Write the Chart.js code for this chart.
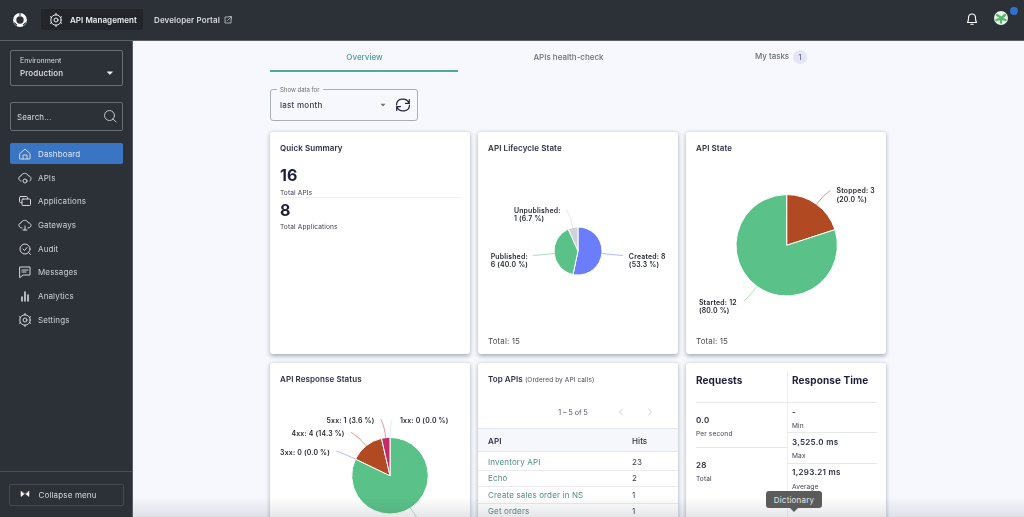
<!DOCTYPE html>
<html><head><meta charset="utf-8"><title>Dashboard</title>
<script src="https://cdn.jsdelivr.net/npm/chart.js@4"></script>
<style>
html,body{margin:0;padding:0;width:1024px;height:517px;overflow:hidden;background:#f6f8fd;font-family:Inter,"Noto Sans",sans-serif;color:#2b2d42}
#app{position:absolute;left:0;top:0;width:1024px;height:517px;overflow:hidden;filter:blur(.3px)}
.a{position:absolute;white-space:nowrap}
.t{position:absolute;white-space:nowrap;transform:translateY(-50%);line-height:1;letter-spacing:.1px}
.card{position:absolute;width:200px;background:#fff;border-radius:3px;box-shadow:0 1.5px 4px rgba(40,45,70,.38);overflow:hidden}
canvas{position:absolute;left:0;top:0}
svg{position:absolute;overflow:visible}
</style></head><body>
<div id="app"></div>
<script>
// ---- data ----
const lifecycleLabels=['Created','Published','Unpublished'];
const lifecycleValues=[8,6,1];
const stateLabels=['Stopped','Started'];
const stateValues=[3,12];
const responseLabels=['1xx','2xx','3xx','4xx','5xx'];
const responseValues=[0,23,0,4,1];
const menuItems=['Dashboard','APIs','Applications','Gateways','Audit','Messages','Analytics','Settings'];
const topApis=['Inventory API','Echo','Create sales order in NS','Get orders'];
const topHits=[23,2,1,1];

const app=document.getElementById('app');
function box(x,y,w,h,css){const d=document.createElement('div');d.className='a';d.style.cssText+=`left:${x}px;top:${y}px;width:${w}px;height:${h}px;`+(css||'');app.appendChild(d);return d;}
function txt(x,y,s,css,anchor){const d=document.createElement('div');d.className='t';d.textContent=s;d.style.cssText+=`left:${x}px;top:${y}px;`+(css||'');if(anchor==='c')d.style.transform='translate(-50%,-50%)';app.appendChild(d);return d;}
function ico(x,y,inner,stroke,sw){const s=document.createElementNS('http://www.w3.org/2000/svg','svg');s.setAttribute('width','16');s.setAttribute('height','16');s.setAttribute('viewBox','-8 -8 16 16');s.style.cssText=`left:${x-8}px;top:${y-8}px;`;s.innerHTML=`<g fill="none" stroke="${stroke||'#dfe2e6'}" stroke-width="${sw||1}" stroke-linecap="round" stroke-linejoin="round">${inner}</g>`;app.appendChild(s);return s;}

// shell
const DARK='#2c3138',LT='#d9dcdf';
box(0,0,1024,40,`background:${DARK}`);
box(0,40,1024,1,'background:#5c6168');
box(0,41,132,476,`background:${DARK}`);
box(132,41,1,476,'background:#585c63');
ico(20,20,'<circle r="5.3"/>','#fff',3.2);
ico(20,20,'<path d="M-5.5 2.8L-3.4 5M5.5 2.8L3.4 5M0-7V-4.5"/>',DARK,1.1);
box(41,9,102,21,'background:#22262b;border-radius:2px');
const gear='<circle r="2"/><circle r="5.2"/><path d="M0-6.6V-5M0 5V6.6M-5.7-3.3L-4.3-2.5M4.3 2.5L5.7 3.3M-5.7 3.3L-4.3 2.5M4.3-2.5L5.7-3.3"/>';
ico(56,19.5,gear,'#eceef0');
txt(70,20,'API Management',`font-size:8px;font-weight:600;color:#eceef0;letter-spacing:.05px`);
txt(154,20,'Developer Portal',`font-size:8px;font-weight:600;color:#d8dbde;letter-spacing:.1px`);
ico(228,19.5,'<path d="M.5-3H-3V3H3V-.5M-.5.5L3-3M1-3.5H3.5V-1"/>','#c8ccd0',.8);
ico(972,19,'<path d="M-4.5 3.5C-3.5 2-3.5 0-3.5-1C-3.5-3.5-2-5 0-5S3.5-3.5 3.5-1C3.5 0 3.5 2 4.5 3.5Z"/><path d="M-1.2 5.2H1.2"/>','#fff',1.1);
ico(1001,18,'<circle r="7" fill="#e9f4ec" stroke="none"/><path d="M-4-3L-1-1M4-3L1-.5M0 4.5V1.5M-4.5 2L-1.5 .8M4.5 2L1.5 .8" stroke="#5ab56c" stroke-width="2.4"/>');
box(1010,7,8,8,'background:#2f6fce;border-radius:50%');

// sidebar controls
box(10,50,111,34,'border:1.5px solid #686c73;border-radius:2px');
txt(20,59.5,'Environment',`font-size:7px;color:${LT};letter-spacing:0`);
txt(20,72.5,'Production',`font-size:8px;font-weight:500;color:#e6e8ea;letter-spacing:.15px`);
ico(110,72.5,'<path d="M-2.6-1.2H2.6L0 1.4Z" fill="#fff" stroke="#fff" stroke-width=".4"/>');
box(10,102,111,27,'border:1.5px solid #686c73;border-radius:2px');
txt(17,116.5,'Search...',`font-size:8px;color:${LT}`);
ico(110,116,'<circle cx="-.5" cy="-.5" r="5"/><path d="M3 3L6 6"/>','#c3c7cb');
box(10,143,113,21,'background:#3a75c4;border-radius:2px');
const icons=[
 '<path d="M-5-.5L0-5L5-.5V5H-5ZM-2 5V1H2V5"/>',
 '<path d="M-4 3C-7 3-7-2-4-2C-3.5-5 2-6 3.5-2C6-2 7 1 5 3"/><circle cy="3" r="2"/>',
 '<rect x="-5.5" y="-4.5" width="8" height="6" rx="1"/><rect x="-3" y="-2" width="8.5" height="6.5" rx="1" fill="#2c3138"/>',
 '<path d="M-3 3C-7 3-7-2-4-2C-3.5-5 2-6 3.5-2C7-2 7 3 3 3M0 1V5M-2 5H2"/>',
 '<circle r="5"/><path d="M-2 0L-.5 1.5L2-1.5M3.5 3.5L5.5 5.5"/>',
 '<path d="M-5-5H5V3H-2L-5 5.5ZM-3-2H3M-3 0H1"/>',
 '<path d="M-3 5V1M0 5V-4M3 5V-1" stroke-width="1.6"/>',
 gear];
const menuY=[154,177.5,201,225,248.5,272,296,320];
menuItems.forEach((m,i)=>{ico(25,menuY[i],icons[i],'#d5d8db');txt(38,menuY[i],m,`font-size:8px;font-weight:400;color:${i?'#cfd2d6':'#dfe6f2'};letter-spacing:.12px`);});
box(0,471,132,1,'background:#484c53');
box(9,484,113,20,'border:1px solid #444952;border-radius:2px');
ico(25,494,'<path d="M-4-2.5V2.5L-.8 0ZM4-2.5V2.5L.8 0Z" fill="#fff" stroke="#fff" stroke-width=".5"/>');
txt(38.5,494.5,'Collapse menu',`font-size:8px;color:#d6d9dc;letter-spacing:.15px`);

// tabs
txt(364.5,57,'Overview','font-size:8px;font-weight:500;color:#4b9e9b;letter-spacing:0','c');
box(270,70,188,1.5,'background:#4fa7a4');
txt(568.5,57,'APIs health-check','font-size:8px;font-weight:500;color:#6a6f78;letter-spacing:0','c');
txt(755,56,'My tasks','font-size:8px;font-weight:500;color:#6a6f78;letter-spacing:-.05px');
box(793,50,14,14,'background:#e4e5f6;border-radius:50%');
txt(800,57,'1','font-size:7px;color:#44466a','c');

// filter
box(270,89,146,30,'border:1px solid #a9adb5;border-radius:3px;box-sizing:content-box');
box(277,86,46,6,'background:#f6f8fd');
txt(280,89.5,'Show data for','font-size:6px;color:#6b6f77;letter-spacing:0');
txt(280,105,'last month','font-size:8px;font-weight:500;color:#3a3c4a;letter-spacing:.25px');
ico(383,104.5,'<path d="M-2.5-1.2H2.5L0 1.4Z" fill="#6b6f77" stroke="none"/>');
ico(403,104.5,'<path d="M-6.5 0C-6.5-7 3.5-8 6 -2M6.5 0C6.5 7-3.5 8-6 2M6.3-5.5V-1.6H2.5M-6.3 5.5V1.6H-2.5"/>','#23253a',1.2);

// cards
function card(x,y,h){const d=box(x,y,200,h);d.className='card';return d;}
const titleCss='font-size:8px;font-weight:600;color:#2d2f48;letter-spacing:.08px';
const labelCss='font-size:6.6px;color:#3c3e50;letter-spacing:.12px';
const boldCss='font-size:8px;font-weight:600;color:#2b2d42;letter-spacing:.3px';
const c1=card(270,132,222),c2=card(478,132,222),c3=card(686,132,222),c4=card(270,363,222),c5=card(478,363,222),c6=card(686,363,222);
txt(280,148,'Quick Summary',titleCss);
txt(280,175,'16','font-size:16px;font-weight:700;color:#1d1f38;letter-spacing:0');
txt(280,192.5,'Total APIs',labelCss);
box(280,197,181,1,'background:#eceef1');
txt(280,209.5,'8','font-size:16px;font-weight:700;color:#1d1f38;letter-spacing:0');
txt(280,226.5,'Total Applications',labelCss);
txt(488,148,'API Lifecycle State',titleCss);
txt(696,148,'API State',titleCss);
txt(280,379,'API Response Status',titleCss);
txt(488,341,'Total: 15','font-size:8px;color:#4a4c58;letter-spacing:.1px');
txt(696,341,'Total: 15','font-size:8px;color:#4a4c58;letter-spacing:.1px');

// Top APIs
const tt=txt(488,379,'Top APIs ',titleCss);
const sm=document.createElement('span');sm.textContent='(Ordered by API calls)';sm.style.cssText='font-size:6.5px;font-weight:400;color:#4a4c58;letter-spacing:.1px';tt.appendChild(sm);
txt(573,411.5,'1 – 5 of 5','font-size:7px;color:#4a4c58;letter-spacing:0','c');
ico(621,411.5,'<path d="M1.5-3L-1.5 0L1.5 3"/>','#c9ccd2');
ico(650,411.5,'<path d="M-1.5-3L1.5 0L-1.5 3"/>','#c9ccd2');
box(478,428,200,24,'background:#f5f7fc;border-top:1px solid #e6e8ee;border-bottom:1px solid #e6e8ee;box-sizing:border-box');
txt(488,441,'API',titleCss);
txt(632,441,'Hits',titleCss.replace('font-weight:600','font-weight:500'));
const rowY=[461.5,478,494.5,511];
topApis.forEach((n,i)=>{txt(488,rowY[i],n,'font-size:8px;color:#4f8c82;letter-spacing:.15px');txt(632,rowY[i],String(topHits[i]),'font-size:8px;color:#3c3e50');if(i<3)box(478,rowY[i]+8,200,1,'background:#e9ebef');});

// Requests / response
const h2='font-size:10px;font-weight:700;color:#1f2139;letter-spacing:.1px';
txt(696,380,'Requests',h2);txt(792,380,'Response Time',h2);
box(787,372,1,145,'background:#eceef1');
box(696,402,181,1,'background:#e6e8ec');
txt(696,420,'0.0',boldCss);txt(696,433.5,'Per second',labelCss);
box(696,447,91,1,'background:#e6e8ec');
txt(696,465,'28',boldCss);txt(696,479,'Total',labelCss);
txt(792,412,'-',boldCss);txt(792,425.5,'Min',labelCss);
box(788,432,89,1,'background:#e6e8ec');
txt(792,442,'3,525.0 ms',boldCss);txt(792,456,'Max',labelCss);
box(788,463,89,1,'background:#e6e8ec');
txt(792,472,'1,293.21 ms',boldCss);txt(792,486.5,'Average',labelCss);

// Leader-line + label plugin: anchors from the arc elements, offsets per slice
const leaderPlugin={id:'leaders',afterDatasetsDraw(chart,args,opts){
  const ctx=chart.ctx,arcs=chart.getDatasetMeta(0).data,vals=chart.data.datasets[0].data;
  const total=vals.reduce((a,b)=>a+b,0);
  arcs.forEach((arc,i)=>{
    const o=opts.layout[i],mid=(arc.startAngle+arc.endAngle)/2,R=arc.outerRadius;
    const sx=arc.x+Math.cos(mid)*R,sy=arc.y+Math.sin(mid)*R;
    const ex=sx+o.dx,ey=sy+o.dy;
    const k=Math.min(Math.hypot(o.dx,o.dy)*.6,12);
    ctx.save();ctx.beginPath();ctx.moveTo(sx,sy);
    ctx.quadraticCurveTo(sx+Math.cos(mid)*k,sy+Math.sin(mid)*k,ex,ey);
    ctx.strokeStyle=opts.lines[i];ctx.globalAlpha=.75;ctx.lineWidth=.7;ctx.stroke();ctx.restore();
    const pct=(total?vals[i]/total*100:0).toFixed(1);
    const name=chart.data.labels[i]+':',val=String(vals[i]),tail='('+pct+' %)';
    ctx.save();ctx.fillStyle='#26282e';ctx.font='600 6.9px Inter, "Noto Sans", sans-serif';ctx.letterSpacing='.2px';ctx.textBaseline='middle';
    ctx.textAlign=o.align;
    const lx=ex+o.lx,ly=ey+o.ly;
    if(o.wrap==='name'){ctx.fillText(name,lx,ly);ctx.fillText(val+' '+tail,lx,ly+8.4);}
    else if(o.wrap==='value'){ctx.fillText(name+' '+val,lx,ly);ctx.fillText(tail,lx,ly+8.4);}
    else ctx.fillText(name+' '+val+' '+tail,lx,ly);
    ctx.restore();
  });
}};
function pie(parent,labels,values,colors,lines,radius,padding,layout){
  const c=document.createElement('canvas');parent.appendChild(c);
  c.style.width=parent.clientWidth+'px';c.style.height=parent.clientHeight+'px';
  c.width=parent.clientWidth;c.height=parent.clientHeight;
  return new Chart(c,{type:'pie',data:{labels,datasets:[{data:values,backgroundColor:colors,borderColor:'#fff',borderWidth:1}]},
   options:{responsive:false,animation:false,radius,layout:{padding},
    plugins:{legend:{display:false},tooltip:{enabled:false},leaders:{layout,lines}}},plugins:[leaderPlugin]});
}
const BLUE='#6b7dfb',GREEN='#5ac288',GREY='#cfd3d9',RUST='#b14a22',CRIM='#c22a68';
pie(c2,lifecycleLabels,lifecycleValues,[BLUE,GREEN,GREY],[BLUE,GREEN,GREY],24,{top:16},[
 {dx:21,dy:2,lx:6,ly:1,align:'left',wrap:'value'},
 {dx:-21,dy:2,lx:-42.5,ly:1,align:'left',wrap:'name'},
 {dx:-6.6,dy:-18,lx:-52.5,ly:1,align:'left',wrap:'name'}]);
pie(c3,stateLabels,stateValues,[RUST,GREEN],[RUST,GREEN],50.7,{top:4.6,right:0,left:1.4},[
 {dx:14,dy:-14,lx:6,ly:1,align:'left',wrap:'value'},
 {dx:-13,dy:15,lx:-45,ly:1.4,align:'left',wrap:'value'}]);
pie(c4,responseLabels,responseValues,['#dfe2e6',GREEN,BLUE,RUST,CRIM],['#d5d8dd',GREEN,BLUE,RUST,CRIM],38.3,{left:40,top:3.4},[
 {dx:2,dy:-18,lx:8,ly:1.4,align:'left'},
 {dx:12,dy:15,lx:6,ly:1,align:'left'},
 {dx:-19,dy:-8,lx:-6.5,ly:2,align:'right'},
 {dx:-15,dy:-13.5,lx:-6.5,ly:2,align:'right'},
 {dx:-4.7,dy:-18.3,lx:-6.5,ly:1.4,align:'right'}]);

// bottom fade + tooltip
box(133,497,891,20,'background:linear-gradient(to bottom,rgba(60,65,90,0),rgba(60,65,90,.13))');
box(766,491,56,17,'background:#5b5b5b;border-radius:3px');
txt(794,500,'Dictionary','font-size:8px;color:#e6e6e6;letter-spacing:.2px','c');
ico(794,508,'<path d="M-4 0H4L0 4Z" fill="#5b5b5b" stroke="none"/>');
</script></body></html>
